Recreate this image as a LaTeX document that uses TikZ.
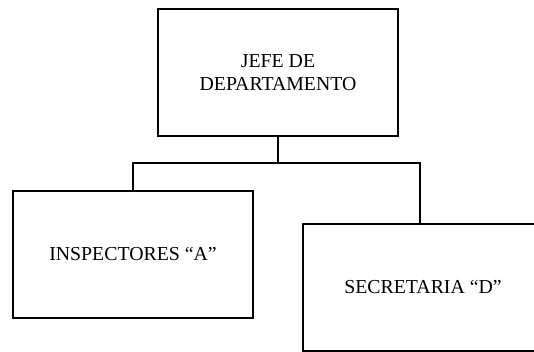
\documentclass[tikz,border=0pt]{standalone}
\usepackage{fontspec}
\setmainfont{Liberation Serif}
\usepackage{tikz}
\usetikzlibrary{positioning}

\begin{document}
\begin{tikzpicture}[x=1pt,y=-1pt]
                \tikzstyle{every node}+=[inner sep=0pt]
                \tikzstyle{puesto}=[draw=black, line width=1.5pt, minimum width=240pt, minimum height=127pt, align=center, font=\fontsize{19.8}{22.5}\selectfont]
                \clip (0,0) rectangle (534,352);
                \node [puesto] (jefe) at (278,72.5) {JEFE DE\\DEPARTAMENTO};
                \node [puesto] (insp) at (133,254.5) {INSPECTORES “A”};
                \node [puesto] (secr) at (423,287.5) {SECRETARIA “D”};
                \coordinate (rama) at (278,163);
                \draw [black, line width=1.5pt] (jefe.south) -- (rama);
                \draw [black, line width=1.5pt] (rama) -| (insp.north);
                \draw [black, line width=1.5pt] (rama) -| ([xshift=-3pt]secr.north);
\end{tikzpicture}
\end{document}
